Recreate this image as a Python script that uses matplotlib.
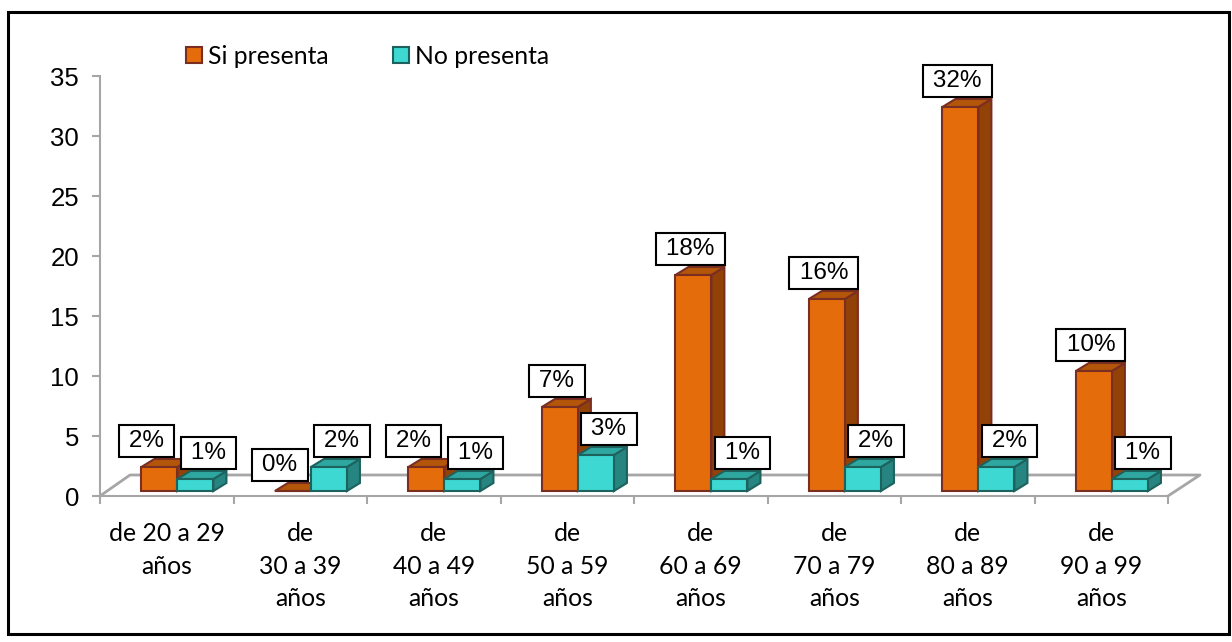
import matplotlib.pyplot as plt
from matplotlib.patches import Polygon, Rectangle, Patch

# data
categories = ["de 20 a 29\naños", "de\n30 a 39\naños", "de\n40 a 49\naños", "de\n50 a 59\naños",
              "de\n60 a 69\naños", "de\n70 a 79\naños", "de\n80 a 89\naños", "de\n90 a 99\naños"]
si_presenta = [2, 0, 2, 7, 18, 16, 32, 10]
no_presenta = [1, 2, 1, 3, 1, 2, 2, 1]
si_labels = ["2%", "0%", "2%", "7%", "18%", "16%", "32%", "10%"]
no_labels = ["1%", "2%", "1%", "3%", "1%", "2%", "2%", "1%"]

W, H = 1232, 642
fig = plt.figure(figsize=(W / 100, H / 100), dpi=100)
ax = fig.add_axes([100 / W, (H - 496) / H, (1168 - 100) / W, (496 - 76) / H])
ax.set_xlim(0, 8)
ax.set_ylim(0, 35)

gray = "#A6A6A6"
# 3d look: pixel sizes converted to data units
px_x = 8 / (1168 - 100)
px_y = 35 / (496 - 76)
dx, dy = 13 * px_x, 8 * px_y
base = 5 * px_y
width = 36 * px_x

# floor outline
back_y = 21 * px_y
ax.plot([0, 30 * px_x, 8 + 32 * px_x, 8], [0, back_y, back_y, 0],
        color=gray, lw=2, clip_on=False, zorder=1)


def bar3d(x, h, front, side, top, edge):
    y0, y1 = base, base + h
    kw = dict(ec=edge, lw=1.5, clip_on=False, zorder=3, joinstyle="miter")
    ax.add_patch(Polygon([(x + width, y0), (x + width + dx, y0 + dy), (x + width + dx, y1 + dy),
                          (x + width, y1)], fc=side, **kw))
    ax.add_patch(Polygon([(x, y1), (x + dx, y1 + dy), (x + width + dx, y1 + dy), (x + width, y1)],
                         fc=top, **kw))
    ax.add_patch(Rectangle((x, y0), width, h, fc=front, **kw))


orange = ("#E46C0A", "#934207", "#B4560A", "#7A2E22")
teal = ("#3DD8D2", "#268580", "#2EA7A1", "#1E625E")

for i in range(len(categories)):
    xo = i + 0.31
    xt = i + 0.58
    bar3d(xo, si_presenta[i], *orange)
    bar3d(xt, no_presenta[i], *teal)
    # labels of short neighbouring bars get pushed apart
    off_o = -13 if abs(si_presenta[i] - no_presenta[i]) < 3 else -3
    for xb, v, lab, off in [(xo, si_presenta[i], si_labels[i], off_o),
                            (xt, no_presenta[i], no_labels[i], 13)]:
        ax.annotate("\u2009" + lab + "\u2009", (xb + width / 2, v + base + dy),
                    xytext=(off, 7), textcoords="offset pixels", ha="center", va="bottom",
                    fontsize=17.5, family=["Liberation Sans", "DejaVu Sans"], zorder=5,
                    annotation_clip=False,
                    bbox=dict(boxstyle="square,pad=0.22", fc="white", ec="black", lw=1.5))

# axes styling
for s in ["top", "right"]:
    ax.spines[s].set_visible(False)
for s in ["left", "bottom"]:
    ax.spines[s].set_color(gray)
    ax.spines[s].set_linewidth(1.5)
ax.set_yticks(range(0, 36, 5))
ax.tick_params(axis="y", colors=gray, length=6, width=1.5, pad=9, labelcolor="black",
               labelsize=18.5)
for t in ax.get_yticklabels():
    t.set_family("Liberation Sans")
ax.set_xticks(range(9))
ax.set_xticklabels([])
ax.tick_params(axis="x", which="major", colors=gray, length=6, width=1.5)
ax.set_xticks([i + 0.5 for i in range(8)], minor=True)
ax.set_xticklabels(categories, minor=True, fontsize=17.8, family="Lato", linespacing=1.48)
ax.tick_params(axis="x", which="minor", length=0, pad=19)

fig.legend(handles=[Patch(fc=orange[0], ec=orange[3], lw=1.5, label="Si presenta"),
                    Patch(fc=teal[0], ec=teal[3], lw=1.5, label="No presenta")],
           loc="center left", bbox_to_anchor=(186 / W, 1 - 56 / H), ncol=2, frameon=False,
           prop=dict(family="Lato", size=17.8), handlelength=0.65, handleheight=0.65,
           handletextpad=0.25, columnspacing=2.6, borderpad=0, borderaxespad=0)

# outer border
fig.patches.append(Rectangle((8 / W, 1 - 634 / H), (1229 - 8) / W, (634 - 12) / H,
                             transform=fig.transFigure, fill=False, ec="black", lw=2.2))

fig.savefig("out.png", dpi=100)
